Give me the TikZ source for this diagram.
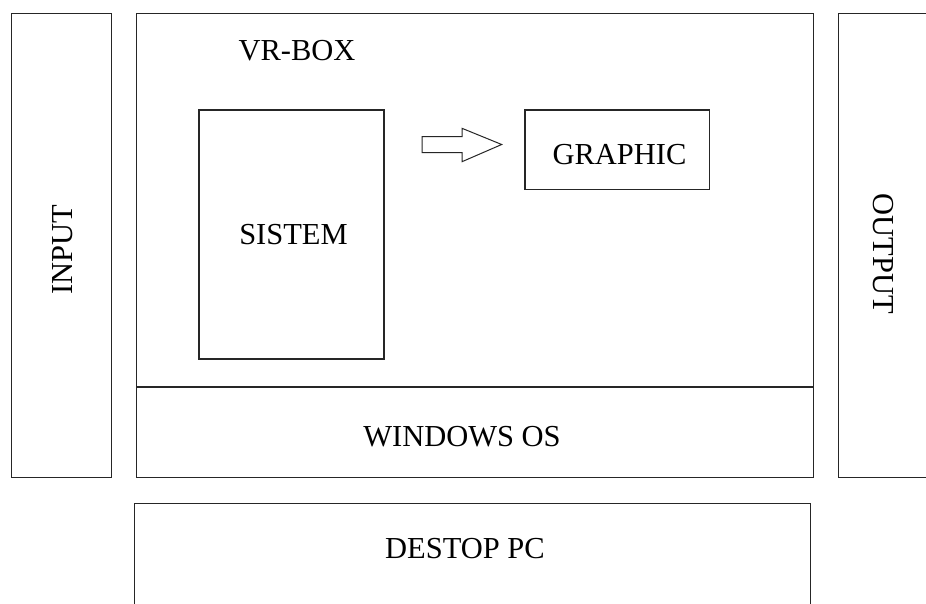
\documentclass[tikz,border=0pt]{standalone}
\usepackage{fontspec}
\setmainfont{Liberation Serif}
\begin{document}
\begin{tikzpicture}[x=1pt,y=-1pt,
  box/.style={draw=black!85, line width=1.5pt, rectangle, inner sep=0pt, outer sep=0pt},
  lbl/.style={font=\fontsize{30.5}{36}\selectfont, inner sep=0pt, anchor=base}]
\useasboundingbox (0,0) rectangle (926,603);
\clip (0,0) rectangle (926,603);
\fill[white] (0,0) rectangle (926,603);
% outer boxes
\node[box, minimum width=100pt, minimum height=464pt] (input) at (61.5,245.4) {};
\node[box, minimum width=676.6pt, minimum height=464pt] (vrbox) at (475,245.4) {};
\node[box, minimum width=110pt, minimum height=464pt] (output) at (893.3,245.4) {};
\node[box, minimum width=676pt, minimum height=117pt] (pc) at (472.3,561.8) {};
\coordinate (divL) at (136.7,387);
\coordinate (divR) at (813.3,387);
\draw[black!85, line width=1.5pt] (divL) -- (divR);
% inner boxes
\node[box, minimum width=185pt, minimum height=249pt] (sistem) at (291.5,234.5) {};
\node[box, minimum width=184.5pt, minimum height=79.5pt] (graphic) at (617,149.7) {};
% arrow
\draw[black!85, line width=1pt, fill=white]
  (422,136.7) -- (462,136.7) -- (462,128.3) -- (501.7,144.5) -- (462,161.7) -- (462,152.7) -- (422,152.7) -- cycle;
% labels
\node[lbl] (tvr) at (297,60.7) {VR-BOX};
\node[lbl] (tgr) at (619.5,164.3) {GRAPHIC};
\node[lbl] (tsi) at (293.5,244.3) {SISTEM};
\node[lbl] (twin) at (462,446) {WINDOWS OS};
\node[lbl] (tpc) at (465,558) {DESTOP PC};
\node[lbl, rotate=90] (tin) at (72,249.5) {INPUT};
\node[lbl, rotate=-90] (tout) at (873,254) {OUTPUT};
\end{tikzpicture}
\end{document}
